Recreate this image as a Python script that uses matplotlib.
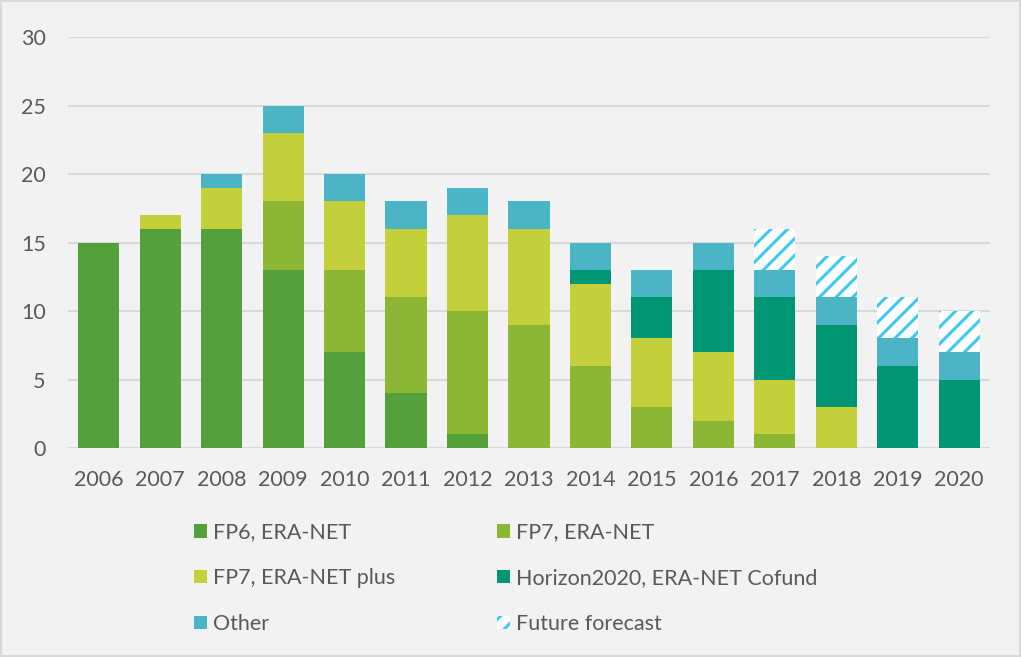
import numpy as np
import matplotlib
matplotlib.use('Agg')
import matplotlib.pyplot as plt
from matplotlib.patches import Patch, Rectangle

years = ['2006', '2007', '2008', '2009', '2010', '2011', '2012', '2013',
         '2014', '2015', '2016', '2017', '2018', '2019', '2020']
fp6_eranet   = [15, 16, 16, 13, 7, 4, 1, 0, 0, 0, 0, 0, 0, 0, 0]
fp7_eranet   = [0, 0, 0, 5, 6, 7, 9, 9, 6, 3, 2, 1, 0, 0, 0]
fp7_plus     = [0, 1, 3, 5, 5, 5, 7, 7, 6, 5, 5, 4, 3, 0, 0]
h2020_cofund = [0, 0, 0, 0, 0, 0, 0, 0, 1, 3, 6, 6, 6, 6, 5]
other        = [0, 0, 1, 2, 2, 2, 2, 2, 2, 2, 2, 2, 2, 2, 2]
forecast     = [0, 0, 0, 0, 0, 0, 0, 0, 0, 0, 0, 3, 3, 3, 3]

series = [
    ('FP6, ERA-NET', fp6_eranet, '#54a03b'),
    ('FP7, ERA-NET', fp7_eranet, '#8bb734'),
    ('FP7, ERA-NET plus', fp7_plus, '#c3cf3b'),
    ('Horizon2020, ERA-NET Cofund', h2020_cofund, '#009673'),
    ('Other', other, '#4bb5c5'),
]
TXT = '#595959'
FS = 15.5

plt.rcParams['font.family'] = ['Lato', 'DejaVu Sans']
plt.rcParams['hatch.linewidth'] = 2.2

fig = plt.figure(figsize=(10.21, 6.57), dpi=100, facecolor='#f2f2f2')
ax = fig.add_axes([0.0666, 0.318, 0.903, 0.6257])
ax.set_facecolor('#f2f2f2')

x = np.arange(len(years))
bottom = np.zeros(len(years))
handles = {}
for name, vals, col in series:
    v = np.array(vals, dtype=float)
    ax.bar(x, v, 0.67, bottom=bottom, color=col, linewidth=0, zorder=3)
    handles[name] = Patch(facecolor=col, edgecolor='none')
    bottom += v
fc = np.array(forecast, dtype=float)
ax.bar(x, fc, 0.67, bottom=bottom, facecolor='white', edgecolor='#3fc8f7',
       linewidth=0, hatch='//', zorder=3)
handles['Future forecast'] = Patch(facecolor='white', edgecolor='#3fc8f7',
                                   linewidth=0, hatch='//')

ax.set_xlim(-0.5, len(years) - 0.5)
ax.set_ylim(0, 30)
ax.set_yticks(range(0, 31, 5))
ax.set_xticks(x, years)
ax.grid(axis='y', color='#d9d9d9', linewidth=1.5, zorder=0)
ax.set_axisbelow(True)
for s in ax.spines.values():
    s.set_visible(False)
ax.tick_params(axis='both', length=0, labelsize=FS, colors=TXT)
ax.tick_params(axis='x', pad=16)
ax.tick_params(axis='y', pad=16)

order = ['FP6, ERA-NET', 'FP7, ERA-NET plus', 'Other',
         'FP7, ERA-NET', 'Horizon2020, ERA-NET Cofund', 'Future forecast']
leg = fig.legend([handles[k] for k in order], order, ncol=2,
                 loc='upper left', bbox_to_anchor=(0.19, 0.205),
                 frameon=False, fontsize=FS, handlelength=0.6, handleheight=0.6,
                 handletextpad=0.3, columnspacing=4.7, labelspacing=1.2,
                 borderaxespad=0, borderpad=0)
for t in leg.get_texts():
    t.set_color(TXT)

fig.patches.append(Rectangle((0.001, 0.001), 0.998, 0.998, transform=fig.transFigure,
                             fill=False, edgecolor='#d9d9d9', linewidth=1.5))

fig.savefig('out.png', dpi=100, facecolor=fig.get_facecolor())
